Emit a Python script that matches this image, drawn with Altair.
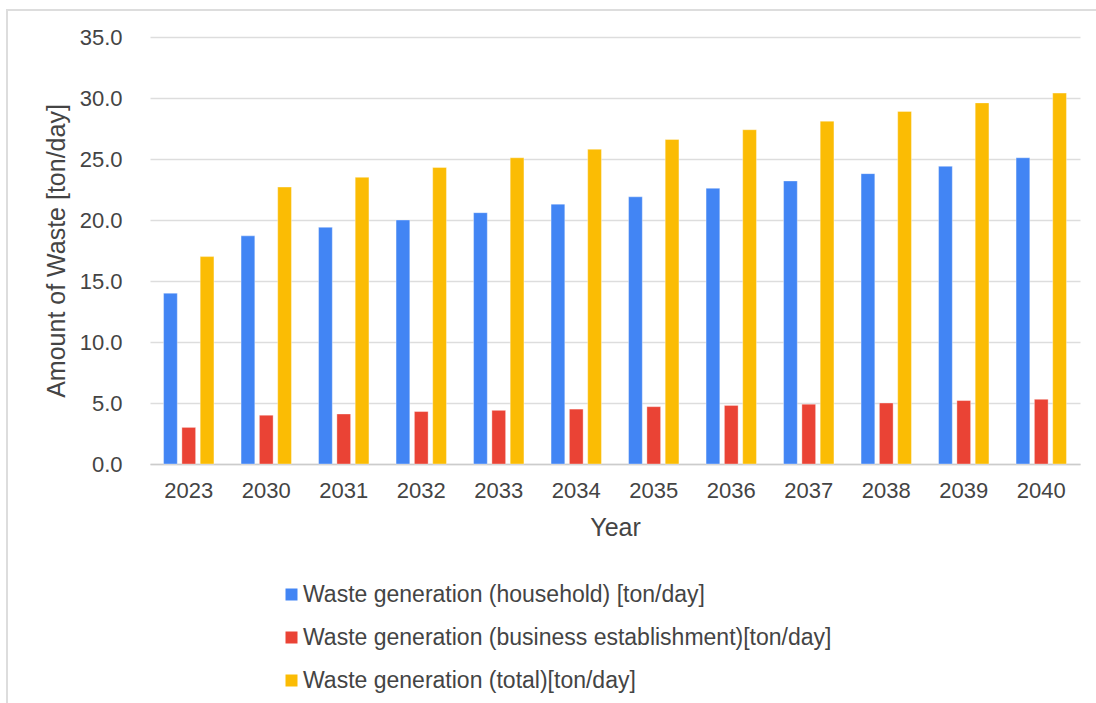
import altair as alt
import pandas as pd

# Projected daily waste generation by year
years = ["2023", "2030", "2031", "2032", "2033", "2034",
         "2035", "2036", "2037", "2038", "2039", "2040"]
household = [14.0, 18.7, 19.4, 20.0, 20.6, 21.3, 21.9, 22.6, 23.2, 23.8, 24.4, 25.1]
business = [3.0, 4.0, 4.1, 4.3, 4.4, 4.5, 4.7, 4.8, 4.9, 5.0, 5.2, 5.3]
total = [17.0, 22.7, 23.5, 24.3, 25.1, 25.8, 26.6, 27.4, 28.1, 28.9, 29.6, 30.4]

series_names = [
    "Waste generation (household) [ton/day]",
    "Waste generation (business establishment)[ton/day]",
    "Waste generation (total)[ton/day]",
]
series_colors = ["#4285F4", "#EA4335", "#FBBC04"]

rows = []
for values, name in zip([household, business, total], series_names):
    for year, v in zip(years, values):
        rows.append({"Year": year, "Series": name, "Value": v})
df = pd.DataFrame(rows)

FONT = "Liberation Sans"
TEXT = "#444444"

bars = alt.Chart(df).mark_bar(stroke="white", strokeWidth=0.6, strokeOpacity=0.6).encode(
    x=alt.X(
        "Year:N",
        sort=years,
        scale=alt.Scale(paddingInner=0.35, paddingOuter=0.175),
        axis=alt.Axis(
            title="Year",
            labelAngle=0,
            labelFontSize=22,
            labelColor=TEXT,
            labelPadding=16,
            titleFontSize=25,
            titleFontWeight="normal",
            titleColor=TEXT,
            titlePadding=14,
            ticks=False,
            tickSize=0,
            domain=True,
            domainColor="#cccccc",
            domainWidth=1.5,
            grid=False,
        ),
    ),
    xOffset=alt.XOffset(
        "Series:N",
        sort=series_names,
        scale=alt.Scale(paddingInner=0.25, paddingOuter=0),
    ),
    y=alt.Y(
        "Value:Q",
        scale=alt.Scale(domain=[0, 35], nice=False),
        axis=alt.Axis(
            title="Amount of Waste [ton/day]",
            values=[0, 5, 10, 15, 20, 25, 30, 35],
            format=".1f",
            labelFontSize=22,
            labelColor=TEXT,
            labelPadding=28,
            titleFontSize=25,
            titleFontWeight="normal",
            titleColor=TEXT,
            titlePadding=10,
            ticks=False,
            tickSize=0,
            domain=False,
            grid=True,
            gridColor="#dddddd",
            gridWidth=1.5,
        ),
    ),
    color=alt.Color(
        "Series:N",
        sort=series_names,
        scale=alt.Scale(domain=series_names, range=series_colors),
        legend=alt.Legend(
            title=None,
            orient="none",
            legendX=130,
            legendY=546,
            direction="vertical",
            symbolType="square",
            symbolSize=144,
            symbolStrokeWidth=0,
            labelFontSize=23,
            labelColor=TEXT,
            labelOffset=0,
            labelLimit=800,
            rowPadding=19,
        ),
    ),
)

# Light frame around the whole figure
frame = alt.Chart(pd.DataFrame({"k": [0]})).mark_rect(
    fill=None, stroke="#dddddd", strokeWidth=2
).encode(
    x=alt.value(-143), x2=alt.value(960),
    y=alt.value(-27), y2=alt.value(700),
)

chart = alt.layer(bars, frame).properties(
    width=930,
    height=427,
    padding={"left": 150, "top": 37, "right": 16, "bottom": 239},
    autosize=alt.AutoSizeParams(type="none"),
    background="white",
).configure(font=FONT, view=alt.ViewConfig(stroke=None))

chart.save("out.html", embed_options={"renderer": "svg", "actions": False})
